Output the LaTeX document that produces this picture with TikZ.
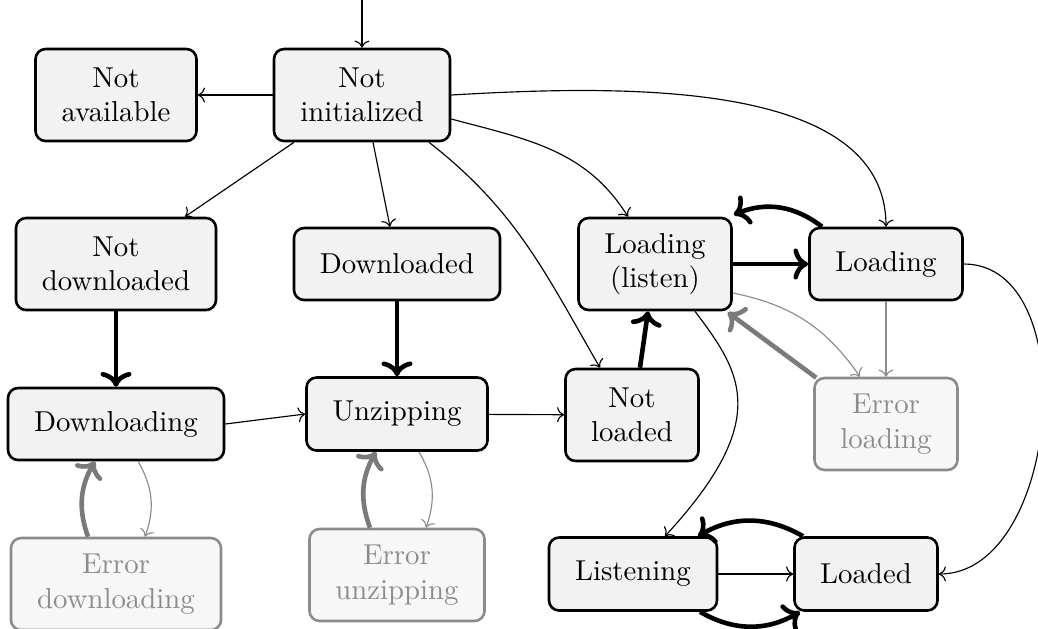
\documentclass[tikz,border=0pt]{standalone}
\usetikzlibrary{arrows.meta,calc}
\begin{document}
\begin{tikzpicture}[x=0.3472pt,y=-0.3472pt,
  st/.style 2 args={draw, line width=0.9pt, rounded corners=3.5pt, fill=black!5,
    align=center, inner sep=0pt, minimum width=#1*0.3472pt, minimum height=#2*0.3472pt},
  err/.style={draw=black!45, text=black!45, fill=black!3},
  tr/.style={->, line width=0.4pt},
  trg/.style={->, line width=0.4pt, draw=black!45},
  main/.style={->, line width=1.6pt},
  maing/.style={->, line width=1.6pt, draw=black!52}]
\useasboundingbox (0,0) rectangle (1038,628);
% nodes
\node[st={161}{92}] (na) at (116,95) {Not\\available};
\node[st={176}{92}] (ni) at (362,95) {Not\\initialized};
\node[st={200}{92}] (nd) at (116,264) {Not\\downloaded};
\node[st={206}{72}] (dl) at (397,264) {Downloaded};
\node[st={153}{92}] (ll) at (655,264) {Loading\\(listen)};
\node[st={153}{72}] (lo) at (886,264) {Loading};
\node[st={216}{72}] (dg) at (116,424) {Downloading};
\node[st={181}{73}] (uz) at (397,414) {Unzipping};
\node[st={133}{92}] (nl) at (632,415) {Not\\loaded};
\node[st={143}{92},err] (el) at (886,424) {Error\\loading};
\node[st={210}{92},err] (ed) at (116,584) {Error\\downloading};
\node[st={175}{92},err] (eu) at (397,575) {Error\\unzipping};
\node[st={168}{73}] (li) at (633,574) {Listening};
\node[st={143}{73}] (ld) at (866,574) {Loaded};
\coordinate (start) at (362,0);
% edges
\draw[tr] (start) -- (ni);
\draw[tr] (ni) -- (na);
\draw[tr] ($(ni.south)+(-68,0)$) -- ($(nd.north)+(69,0)$);
\draw[tr] ($(ni.south)+(11,0)$) -- ($(dl.north)+(-7,0)$);
\draw[tr] ($(ni.south)+(67,0)$) to[out=-38,in=120] ($(nl.north)+(-32,0)$);
\draw[tr] ($(ni.east)+(0,24)$) to[out=-15,in=122] ($(ll.north)+(-27,0)$);
\draw[tr] (ni.east) .. controls ($(ni.east)+(170,-10)$) and ($(lo.north)+(0,-148)$) .. (lo.north);
\draw[main] (nd) -- (dg);
\draw[main] (dl) -- (uz);
\draw[tr] (dg.east) -- (uz.west);
\draw[tr] (uz) -- (nl);
\draw[main] ($(nl.north)+(8,0)$) -- ($(ll.south)+(-7,0)$);
\draw[main] (ll) -- (lo);
\draw[main] ($(lo.north)+(-64,0)$) to[bend right=30] ($(ll.north east)+(1,-2)$);
\draw[trg] ($(ll.east)+(0,29)$) to[bend left=22] ($(el.north)+(-26,0)$);
\draw[trg] (lo) -- (el);
\draw[maing] ($(el.north west)+(3,1)$) -- ($(ll.south east)+(-5,1)$);
\draw[tr] ($(ll.south)+(40,0)$) .. controls ($(ll.south)+(86,61)$) and ($(li.north)+(140,-117)$) .. ($(li.north)+(32,0)$);
\draw[tr] (lo.east) to[out=0,in=0] (ld.east);
\draw[tr] (li) -- (ld);
\draw[main] ($(ld.north)+(-63,0)$) to[bend right=30] ($(li.north)+(65,0)$);
\draw[main] ($(li.south)+(67,0)$) to[bend right=30] ($(ld.south)+(-66,0)$);
\draw[maing] ($(ed.north)+(-28,0)$) to[bend left=25] ($(dg.south)+(-21,0)$);
\draw[trg] ($(dg.south)+(22,0)$) to[bend left=25] ($(ed.north)+(29,0)$);
\draw[maing] ($(eu.north)+(-27,0)$) to[bend left=25] ($(uz.south)+(-21,0)$);
\draw[trg] ($(uz.south)+(22,0)$) to[bend left=25] ($(eu.north)+(29,0)$);
\end{tikzpicture}
\end{document}
